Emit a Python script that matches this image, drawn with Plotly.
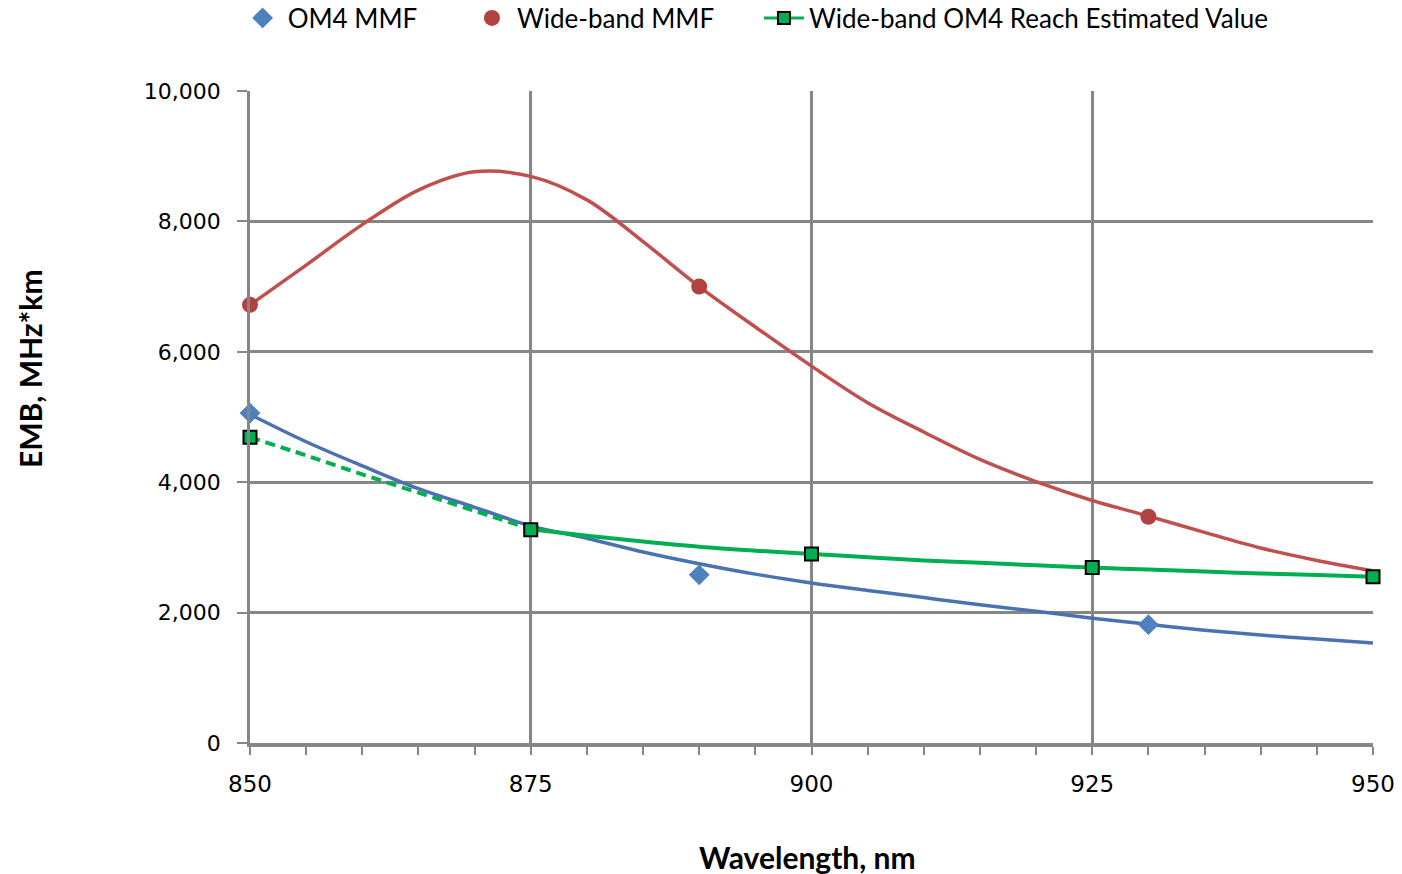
import plotly.graph_objects as go

# ---- data ----
grid_nm = [850, 855, 860, 865, 870, 875, 880, 885, 890, 895, 900,
           905, 910, 915, 920, 925, 930, 935, 940, 945, 950]
om4_fit = [5040, 4620, 4250, 3900, 3615, 3330, 3140, 2930, 2750, 2590, 2455,
           2340, 2230, 2120, 2020, 1915, 1820, 1730, 1655, 1595, 1535]
wb_fit = [6720, 7330, 7950, 8480, 8760, 8690, 8330, 7690, 7000, 6380, 5780,
          5220, 4770, 4350, 4010, 3720, 3480, 3230, 2990, 2800, 2640]

est_dash_nm = [850, 855, 860, 865, 870, 875]
est_dash = [4690, 4410, 4120, 3840, 3560, 3280]
est_solid_nm = [875, 880, 885, 890, 895, 900, 905, 910, 915, 920,
                925, 930, 935, 940, 945, 950]
est_solid = [3280, 3180, 3090, 3010, 2950, 2900, 2850, 2800, 2765, 2725,
             2690, 2660, 2630, 2600, 2575, 2550]

om4_nm = [850, 890, 930]
om4_emb = [5060, 2580, 1815]
wb_nm = [850, 890, 930]
wb_emb = [6720, 7000, 3470]
est_nm = [850, 875, 900, 925, 950]
est_emb = [4690, 3270, 2900, 2690, 2550]

names = ["OM4 MMF", "Wide-band MMF", "Wide-band OM4 Reach Estimated Value"]
x_title = "Wavelength, nm"
y_title = "EMB, MHz*km"

BLUE_L = "#4A72B0"
BLUE_M = "#4F81BD"
RED_L = "#C0504D"
RED_M = "#B0423F"
GREEN = "#00B050"
GRID = "#868686"

fig = go.Figure()

# fitted curves (not in legend)
fig.add_trace(go.Scatter(x=grid_nm, y=wb_fit, mode="lines", showlegend=False,
                         line=dict(color=RED_L, width=3.5, shape="spline"),
                         hoverinfo="skip"))
fig.add_trace(go.Scatter(x=grid_nm, y=om4_fit, mode="lines", showlegend=False,
                         line=dict(color=BLUE_L, width=3.5, shape="spline"),
                         hoverinfo="skip"))
fig.add_trace(go.Scatter(x=est_dash_nm, y=est_dash, mode="lines", showlegend=False,
                         line=dict(color=GREEN, width=4, dash="10px,6px", shape="spline"),
                         hoverinfo="skip"))
fig.add_trace(go.Scatter(x=est_solid_nm, y=est_solid, mode="lines", showlegend=False,
                         line=dict(color=GREEN, width=4, shape="spline"),
                         hoverinfo="skip"))

# measured points
fig.add_trace(go.Scatter(x=om4_nm, y=om4_emb, mode="markers", name=names[0],
                         legend="legend", cliponaxis=False,
                         marker=dict(symbol="diamond", size=16, color=BLUE_M)))
fig.add_trace(go.Scatter(x=wb_nm, y=wb_emb, mode="markers", name=names[1],
                         legend="legend2", cliponaxis=False,
                         marker=dict(symbol="circle", size=16, color=RED_M)))
fig.add_trace(go.Scatter(x=est_nm, y=est_emb, mode="markers", name=names[2],
                         showlegend=False, cliponaxis=False,
                         marker=dict(symbol="square", size=13, color=GREEN,
                                     line=dict(color="black", width=2))))
# legend entry for the estimate (line + marker)
fig.add_trace(go.Scatter(x=[None], y=[None], mode="lines+markers", name=names[2],
                         legend="legend3",
                         line=dict(color=GREEN, width=3),
                         marker=dict(symbol="square", size=12, color=GREEN,
                                     line=dict(color="black", width=2))))

leg_font = dict(family="Lato", size=26, color="black")
leg_common = dict(orientation="h", yanchor="middle", y=1.112, xanchor="left",
                  itemwidth=40,
                  font=leg_font, bgcolor="rgba(0,0,0,0)", borderwidth=0)

title_font = dict(family="Lato", size=30, color="black")

fig.update_layout(
    width=1402, height=874,
    margin=dict(l=250, r=29, t=91, b=131, autoexpand=False),
    paper_bgcolor="white", plot_bgcolor="white",
    font=dict(family="DejaVu Sans", size=22, color="black"),
    legend=dict(x=-0.011, **leg_common),
    legend2=dict(x=0.1932, **leg_common),
    legend3=dict(x=0.4532, **leg_common),
    xaxis=dict(
        range=[850, 950], tickmode="linear", tick0=850, dtick=25,
        showgrid=True, gridcolor=GRID, gridwidth=2.5,
        showline=True, linecolor=GRID, linewidth=3.5,
        ticks="outside", ticklen=8, tickcolor=GRID, tickwidth=2,
        ticklabelstandoff=10,
        minor=dict(dtick=5, ticks="outside", ticklen=8, tickcolor=GRID,
                   tickwidth=2, showgrid=False),
        zeroline=False, automargin=False,
        tickfont=dict(family="DejaVu Sans", size=23),
    ),
    yaxis=dict(
        range=[0, 10000], tickmode="linear", tick0=0, dtick=2000,
        tickformat=",d",
        showgrid=True, gridcolor=GRID, gridwidth=2.5,
        showline=True, linecolor=GRID, linewidth=2.5,
        ticks="outside", ticklen=10, tickcolor=GRID, tickwidth=2,
        ticklabelstandoff=12,
        zeroline=False, automargin=False,
        tickfont=dict(family="DejaVu Sans", size=22),
    ),
    annotations=[
        dict(text="<b>" + x_title + "</b>", xref="paper", yref="paper",
             x=0.496, y=-0.175, xanchor="center", yanchor="middle",
             showarrow=False, font=title_font),
        dict(text="<b>" + y_title + "</b>", xref="paper", yref="paper",
             x=-0.196, y=0.575, xanchor="center", yanchor="middle",
             textangle=-90, showarrow=False, font=title_font),
    ],
    showlegend=True,
)

# remove the browser's default 8px body margin so the figure sits at (0, 0)
fig.write_html("out.html",
               config={"displayModeBar": False},
               post_script="document.body.style.margin='0';document.body.style.overflow='hidden';")
